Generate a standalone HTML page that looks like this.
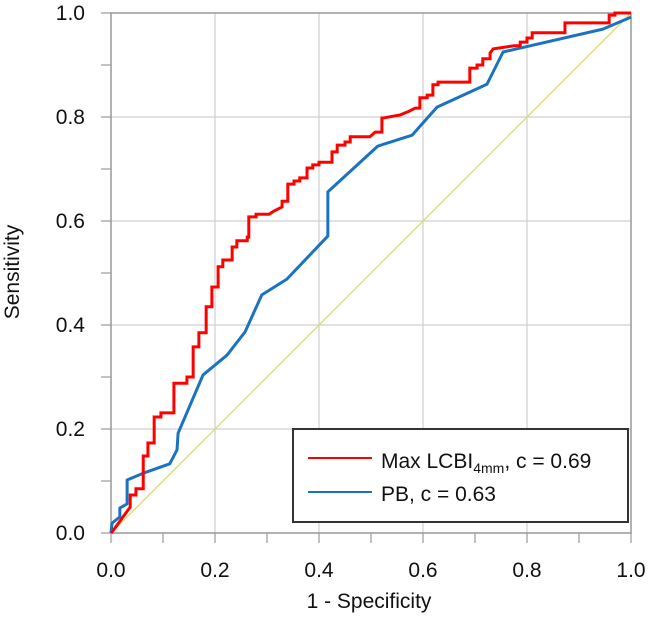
<!DOCTYPE html>
<html><head><meta charset="utf-8"><style>
html,body{margin:0;padding:0;background:#fff;}
svg{display:block;font-family:"Liberation Sans",Arial,sans-serif;}
</style></head><body>
<svg id="chart" width="649" height="617" viewBox="0 0 649 617" xmlns="http://www.w3.org/2000/svg">
<g id="grid"></g>
<g id="axes"></g>
<g id="series"></g>
<g>
  <rect x="293" y="429" width="335" height="93" fill="#fff" stroke="#333" stroke-width="2"/>
  <g>
    <line x1="308" y1="458" x2="372" y2="458" stroke="#ff0000" stroke-width="2"/>
    <text x="381" y="468" font-size="21" fill="#111">Max LCBI<tspan font-size="14" dy="5">4mm</tspan><tspan dy="-5">, c = 0.69</tspan></text>
  </g>
  <g>
    <line x1="308" y1="492" x2="372" y2="492" stroke="#1a73c0" stroke-width="2"/>
    <text x="381" y="501" font-size="21" fill="#111">PB, c = 0.63</text>
  </g>
</g>
<text x="369" y="608" font-size="21" fill="#111" text-anchor="middle">1 - Specificity</text>
<text transform="translate(19,272) rotate(-90)" font-size="21" fill="#111" text-anchor="middle">Sensitivity</text>
</svg>
<script>
const xTicks = [0, 0.2, 0.4, 0.6, 0.8, 1.0];
const xTickLabels = ["0.0", "0.2", "0.4", "0.6", "0.8", "1.0"];
const yTicks = [0, 0.2, 0.4, 0.6, 0.8, 1.0];
const yTickLabels = ["0.0", "0.2", "0.4", "0.6", "0.8", "1.0"];
const minorTicks = [0.1, 0.3, 0.5, 0.7, 0.9];
const lcbiFpr = [0,0.002,0.037,0.037,0.048,0.048,0.062,0.062,0.071,0.071,0.083,0.083,0.096,0.096,0.121,0.121,0.146,0.146,0.158,0.158,0.169,0.169,0.183,0.183,0.194,0.194,0.206,0.206,0.215,0.215,0.233,0.233,0.242,0.242,0.262,0.262,0.265,0.265,0.279,0.279,0.304,0.313,0.329,0.329,0.340,0.340,0.352,0.352,0.363,0.363,0.377,0.377,0.388,0.388,0.400,0.400,0.425,0.425,0.435,0.435,0.450,0.450,0.460,0.460,0.498,0.508,0.521,0.521,0.523,0.556,0.571,0.585,0.594,0.594,0.608,0.608,0.619,0.619,0.629,0.629,0.690,0.690,0.704,0.704,0.715,0.715,0.729,0.729,0.735,0.775,0.787,0.787,0.800,0.800,0.810,0.810,0.873,0.873,0.958,0.958,0.969,0.969,1.0];
const lcbiTpr = [0,0.002,0.050,0.073,0.073,0.085,0.085,0.148,0.148,0.173,0.173,0.223,0.223,0.231,0.231,0.288,0.288,0.300,0.300,0.358,0.358,0.385,0.385,0.435,0.435,0.473,0.473,0.512,0.512,0.525,0.525,0.550,0.550,0.562,0.562,0.569,0.569,0.608,0.608,0.613,0.613,0.619,0.627,0.638,0.638,0.671,0.671,0.677,0.677,0.683,0.683,0.702,0.702,0.708,0.708,0.713,0.713,0.733,0.733,0.746,0.746,0.752,0.752,0.762,0.762,0.771,0.771,0.798,0.798,0.804,0.810,0.817,0.817,0.837,0.837,0.842,0.842,0.862,0.862,0.867,0.867,0.894,0.894,0.900,0.900,0.912,0.912,0.923,0.931,0.937,0.937,0.944,0.944,0.952,0.952,0.962,0.962,0.981,0.981,0.996,0.996,1.0,1.0];
const pbFpr = [0,0.002,0.017,0.017,0.031,0.031,0.062,0.113,0.127,0.129,0.177,0.223,0.258,0.290,0.338,0.417,0.417,0.513,0.579,0.627,0.723,0.754,0.946,1.0];
const pbTpr = [0,0.019,0.031,0.048,0.056,0.102,0.115,0.133,0.160,0.192,0.304,0.342,0.387,0.458,0.488,0.571,0.656,0.744,0.765,0.819,0.863,0.925,0.969,0.992];
const refFpr = [0, 1];
const refTpr = [0, 1];

const NS = "http://www.w3.org/2000/svg";
const X0 = 111, Y0 = 533, W = 520, H = 520;
function sx(v){ return X0 + v * W; }
function sy(v){ return Y0 - v * H; }
function mk(tag, attrs, parent){
  const e = document.createElementNS(NS, tag);
  for (const k in attrs) e.setAttribute(k, attrs[k]);
  parent.appendChild(e);
  return e;
}
const grid = document.getElementById('grid');
const axes = document.getElementById('axes');
const series = document.getElementById('series');

xTicks.forEach((t, i) => {
  if (t > 0 && t < 1) {
    const g = mk('line', {x1: sx(t), y1: sy(0), x2: sx(t), y2: sy(1), stroke: '#cfcfcf', 'stroke-width': 1.2}, grid);
    
    
  }
  const tk = mk('line', {x1: sx(t), y1: sy(0), x2: sx(t), y2: sy(0) + 10, stroke: '#999', 'stroke-width': 1.2}, axes);
  
  
  const lb = mk('text', {x: sx(t), y: 577, 'font-size': 21, fill: '#111', 'text-anchor': 'middle'}, axes);
  lb.textContent = xTickLabels[i];
  
  
});
yTicks.forEach((t, i) => {
  if (t > 0 && t < 1) {
    const g = mk('line', {x1: sx(0), y1: sy(t), x2: sx(1), y2: sy(t), stroke: '#cfcfcf', 'stroke-width': 1.2}, grid);
    
    
  }
  const tk = mk('line', {x1: sx(0) - 10, y1: sy(t), x2: sx(0), y2: sy(t), stroke: '#999', 'stroke-width': 1.2}, axes);
  
  
  const lb = mk('text', {x: 85, y: sy(t) + 7, 'font-size': 21, fill: '#111', 'text-anchor': 'end'}, axes);
  lb.textContent = yTickLabels[i];
  
  
});
minorTicks.forEach(t => {
  const a = mk('line', {x1: sx(t), y1: sy(0), x2: sx(t), y2: sy(0) + 10, stroke: '#999', 'stroke-width': 1.2}, axes);
  
  
  const b = mk('line', {x1: sx(0) - 10, y1: sy(t), x2: sx(0), y2: sy(t), stroke: '#999', 'stroke-width': 1.2}, axes);
  
  
});
const frame = mk('rect', {x: sx(0), y: sy(1), width: W, height: H, fill: 'none', stroke: '#999', 'stroke-width': 1.5}, axes);



function pts(xs, ys){ return xs.map((x, i) => sx(x) + ',' + sy(ys[i])).join(' '); }
const ref = mk('polyline', {points: pts(refFpr, refTpr), fill: 'none', stroke: '#e0dc5a', 'stroke-width': 1.3}, series);


const pb = mk('polyline', {points: pts(pbFpr, pbTpr), fill: 'none', stroke: '#1a73c0', 'stroke-width': 3, 'stroke-linejoin': 'round'}, series);


const lc = mk('polyline', {points: pts(lcbiFpr, lcbiTpr), fill: 'none', stroke: '#ff0000', 'stroke-width': 3, 'stroke-linejoin': 'miter'}, series);


</script>
</body></html>
